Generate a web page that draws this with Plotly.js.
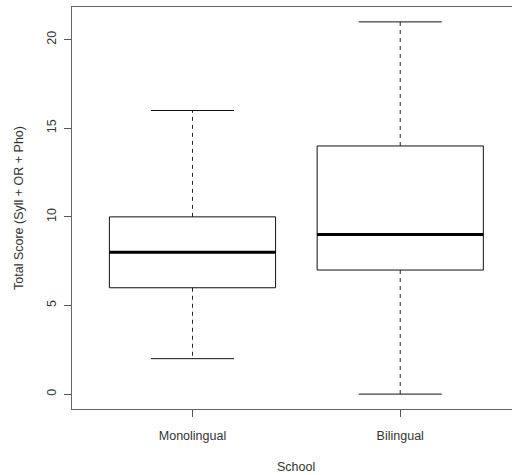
<!DOCTYPE html>
<html>
<head>
<meta charset="utf-8">
<script src="https://cdn.plot.ly/plotly-3.0.1.min.js"></script>
<style>html,body{margin:0;padding:0;background:#fff;}#chart{width:512px;height:475px;}</style>
</head>
<body>
<div id="chart"></div>
<script>
// Data (five-number summaries)
const categories = ["Monolingual", "Bilingual"];
const lowerWhisker = [2, 0];
const q1 = [6, 7];
const median = [8, 9];
const q3 = [10, 14];
const upperWhisker = [16, 21];
const yTicks = [0, 5, 10, 15, 20];

const boxHalf = 0.4;   // box width 0.8
const capHalf = 0.2;   // staple = half box width
const traces = [];

categories.forEach((cat, k) => {
  const x = k + 1;
  // dashed whiskers
  traces.push({
    type: 'scatter', mode: 'lines', hoverinfo: 'skip', showlegend: false,
    x: [x, x, null, x, x],
    y: [q3[k], upperWhisker[k], null, q1[k], lowerWhisker[k]],
    line: {color: '#222', width: 1, dash: '4px,4px'}
  });
  // caps
  traces.push({
    type: 'scatter', mode: 'lines', hoverinfo: 'skip', showlegend: false,
    x: [x - capHalf, x + capHalf, null, x - capHalf, x + capHalf],
    y: [upperWhisker[k], upperWhisker[k], null, lowerWhisker[k], lowerWhisker[k]],
    line: {color: '#111', width: 1}
  });
  // box
  traces.push({
    type: 'scatter', mode: 'lines', hoverinfo: 'skip', showlegend: false,
    x: [x - boxHalf, x + boxHalf, x + boxHalf, x - boxHalf, x - boxHalf],
    y: [q1[k], q1[k], q3[k], q3[k], q1[k]],
    line: {color: '#111', width: 1}
  });
  // median
  traces.push({
    type: 'scatter', mode: 'lines', hoverinfo: 'skip', showlegend: false,
    x: [x - boxHalf, x + boxHalf],
    y: [median[k], median[k]],
    line: {color: '#000', width: 3}
  });
});

const font = {family: 'Liberation Sans, Arial, sans-serif', size: 12.5, color: '#333'};

const layout = {
  width: 512, height: 475,
  margin: {l: 72, r: 0, t: 7, b: 66, pad: 0},
  paper_bgcolor: '#fff', plot_bgcolor: '#fff',
  font: font,
  showlegend: false,
  xaxis: {
    range: [0.42, 2.538],
    tickmode: 'array', tickvals: categories.map((c, i) => i + 1), ticktext: categories,
    ticks: 'outside', ticklen: 7, tickcolor: '#555', tickwidth: 1,
    showline: true, linecolor: '#666', linewidth: 1, mirror: true,
    showgrid: false, zeroline: false,
    ticklabelstandoff: 8,
    tickfont: font
  },
  yaxis: {
    range: [-0.84, 21.84],
    tickmode: 'array', tickvals: yTicks, ticktext: yTicks.map(String),
    ticks: 'outside', ticklen: 7, tickcolor: '#555', tickwidth: 1,
    showline: true, linecolor: '#666', linewidth: 1, mirror: false,
    showgrid: false, zeroline: false,
    tickangle: -90,
    ticklabelstandoff: 3,
    tickfont: font
  },
  annotations: [
    {text: 'School', xref: 'x', yref: 'paper', x: 1.5, y: 0, yshift: -58,
     showarrow: false, xanchor: 'center', yanchor: 'middle', font: font},
    {text: 'Total Score (Syll + OR + Pho)', xref: 'paper', yref: 'paper', x: 0, xshift: -53, y: 0.5,
     textangle: -90, showarrow: false, xanchor: 'center', yanchor: 'middle', font: font}
  ]
};

Plotly.newPlot('chart', traces, layout, {staticPlot: true, displayModeBar: false});
</script>
</body>
</html>
